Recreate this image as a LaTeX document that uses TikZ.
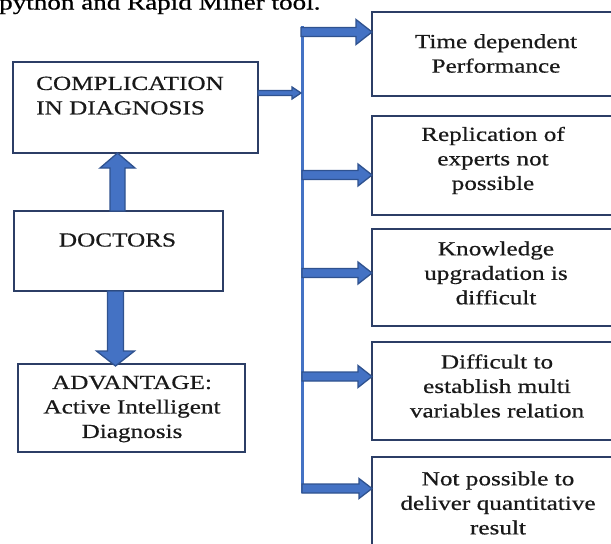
\documentclass[tikz,border=0pt]{standalone}
\usepackage{fontspec}
\setmainfont{Liberation Serif}[FakeStretch=1.26,FakeBold=0.6]
\usetikzlibrary{calc}
\definecolor{afill}{HTML}{4472C4}
\definecolor{aedge}{HTML}{2F528F}
\definecolor{bedge}{HTML}{2C3E66}
\newcommand\blkarrow[5]{%
  \coordinate (hb) at ($(#2)!#5!(#1)$);
  \draw[blockarrow] ($(#1)!#3!90:(#2)$) -- ($(hb)!#3!90:(#2)$) -- ($(hb)!#4!90:(#2)$) -- (#2)
    -- ($(hb)!#4!-90:(#2)$) -- ($(hb)!#3!-90:(#2)$) -- ($(#1)!#3!-90:(#2)$) -- cycle;}
\tikzset{
  box/.style={draw=bedge, line width=1.8pt, inner sep=0pt, outer sep=0pt},
  txt/.style={align=center, font=\fontsize{20}{24.5}\selectfont, inner sep=0pt, text=black!90},
  blockarrow/.style={fill=afill, draw=aedge, line width=1.3pt, line join=miter},
  spine/.style={draw=afill, line width=3pt}
}
\begin{document}
\begin{tikzpicture}[x=1pt,y=-1pt]
\useasboundingbox (0,0) rectangle (611,544);
\clip (0,0) rectangle (611,544);
% cut caption at top
\node[anchor=base west, font=\fontsize{21.5}{25}\selectfont, inner sep=0pt] (cap) at (-1,9.5) {python and Rapid Miner tool.};
% left boxes
\node[box, minimum width=245pt, minimum height=91pt] (comp) at (135.5,107.5) {};
\node[txt, align=left, anchor=north west] (compt) at (36,76.5) {COMPLICATION\\IN DIAGNOSIS};
\node[box, minimum width=209pt, minimum height=80pt] (doc) at (118.5,251) {};
\node[txt] (doct) at (117.5,240) {DOCTORS};
\node[box, minimum width=227pt, minimum height=88pt] (adv) at (131.5,408) {};
\node[txt] (advt) at (132,409) {ADVANTAGE:\\Active Intelligent\\Diagnosis};
% right boxes
\node[box, minimum width=250pt, minimum height=84pt] (r1) at (497,54) {};
\node[txt] (r1t) at (496,53.5) {Time dependent\\Performance};
\node[box, minimum width=250pt, minimum height=99pt] (r2) at (497,165.5) {};
\node[txt] (r2t) at (493,160.5) {Replication of\\experts not\\possible};
\node[box, minimum width=250pt, minimum height=97pt] (r3) at (497,277.5) {};
\node[txt] (r3t) at (496,273) {Knowledge\\upgradation is\\difficult};
\node[box, minimum width=250pt, minimum height=98pt] (r4) at (497,391) {};
\node[txt] (r4t) at (497,386) {Difficult to\\establish multi\\variables relation};
\node[box, minimum width=250pt, minimum height=98pt] (r5) at (497,506) {};
\node[txt] (r5t) at (498,503) {Not possible to\\deliver quantitative\\result};
% spine
\coordinate (vtop) at (302,26);
\coordinate (vbot) at (302,493);
\draw[spine] (vtop) -- (vbot);
% branch points
\coordinate (v1) at (301,32);
\coordinate (v2) at (302,175);
\coordinate (v3) at (302,273);
\coordinate (v4) at (302,376.5);
\coordinate (v5) at (302,488.5);
\coordinate (e1) at (v1 -| r1.west);
\coordinate (e2) at (v2 -| r2.west);
\coordinate (e3) at (v3 -| r3.west);
\coordinate (e4) at (v4 -| r4.west);
\coordinate (e5) at (v5 -| r5.west);
\blkarrow{v1}{e1}{4.5pt}{12.5pt}{16pt}
\blkarrow{v2}{e2}{4.5pt}{11pt}{14pt}
\blkarrow{v3}{e3}{4.5pt}{11pt}{14pt}
\blkarrow{v4}{e4}{4.5pt}{11pt}{14pt}
\blkarrow{v5}{e5}{4.5pt}{10pt}{13pt}
% small arrow from complication box to spine
\coordinate (sm) at (301,93);
\coordinate (cs) at (comp.east |- sm);
\blkarrow{cs}{sm}{2.5pt}{6pt}{9pt}
% vertical arrows
\coordinate (ua) at ([xshift=-1pt]doc.north);
\coordinate (ub) at (ua |- comp.south);
\blkarrow{ua}{ub}{7.5pt}{17.5pt}{15pt}
\coordinate (da) at ([xshift=-3pt]doc.south);
\coordinate (db) at ([yshift=-2pt]da |- adv.north);
\blkarrow{da}{db}{8pt}{19pt}{15pt}
\end{tikzpicture}
\end{document}
